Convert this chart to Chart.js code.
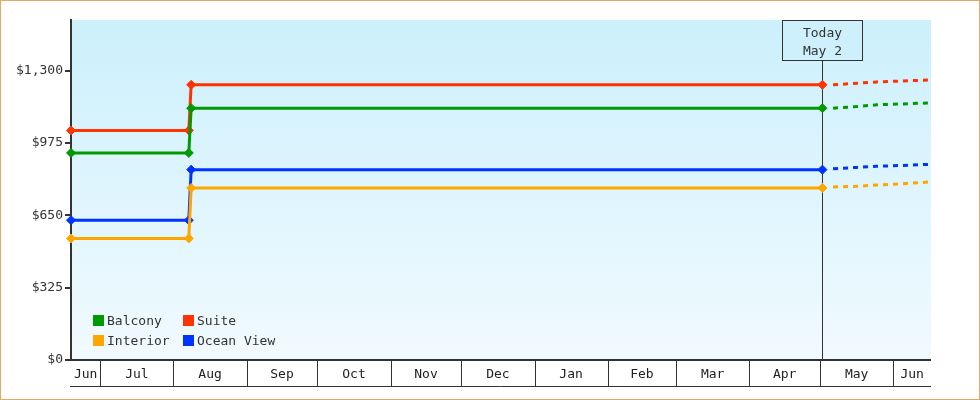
<!DOCTYPE html>
<html>
<head>
<meta charset="utf-8">
<script src="https://cdn.jsdelivr.net/npm/chart.js@4.4.1/dist/chart.umd.min.js"></script>
<style>
  html, body { margin: 0; padding: 0; background: #fff; }
  #wrap { width: 980px; height: 400px; }
</style>
</head>
<body>
<div id="wrap"><canvas id="fares" width="980" height="400"></canvas></div>
<script>
// Cabin price history (solid) and projection (dashed)
const seriesNames = ['Balcony', 'Suite', 'Interior', 'Ocean View'];
const seriesColors = ['#009900', '#ff3300', '#ffa500', '#0033ff'];

const historyDates = ['2023-06-18T14:00Z', '2023-08-07T12:00Z', '2023-08-08T12:00Z', '2024-05-02T00:00Z'];
const balconyHistory = [930, 930, 1131, 1131];
const suiteHistory = [1031, 1031, 1236, 1236];
const interiorHistory = [546, 546, 773, 773];
const oceanHistory = [628, 628, 855, 855];

const projectionDates = ['2024-05-06T12:00Z', '2024-05-16T12:00Z', '2024-05-25T00:00Z', '2024-06-05T00:00Z', '2024-06-17T00:00Z'];
const balconyProjection = [1131, 1138, 1146, 1150, 1155];
const suiteProjection = [1236, 1243, 1249, 1253, 1258];
const interiorProjection = [777, 780, 786, 792, 800];
const oceanProjection = [859, 865, 870, 874, 879];

const yTicks = [0, 325, 650, 975, 1300];
const yMax = 1527;

const axisStart = '2023-06-18T14:00Z';
const axisEnd = '2024-06-17T00:00Z';
const monthLabels = ['Jun', 'Jul', 'Aug', 'Sep', 'Oct', 'Nov', 'Dec', 'Jan', 'Feb', 'Mar', 'Apr', 'May', 'Jun'];
const monthStarts = ['2023-06-01', '2023-07-01', '2023-08-01', '2023-09-01', '2023-10-01', '2023-11-01', '2023-12-01',
                     '2024-01-01', '2024-02-01', '2024-03-01', '2024-04-01', '2024-05-01', '2024-06-01', '2024-07-01'];

const todayDate = '2024-05-02T00:00Z';
const todayLines = ['Today', 'May 2'];

const FONT = '13px "DejaVu Sans Mono", "Liberation Mono", monospace';
const INK = '#333333';

// dates -> day numbers for the linear x scale
function day(s) {
    if (s.length === 10) s += 'T00:00Z';
    return Date.parse(s) / 86400000;
}

function pts(dates, values) {
    return dates.map((d, i) => ({ x: day(d), y: values[i] }));
}

const histories = [balconyHistory, suiteHistory, interiorHistory, oceanHistory];
const projections = [balconyProjection, suiteProjection, interiorProjection, oceanProjection];

const datasets = [];
seriesNames.forEach((name, i) => {
    datasets.push({
        label: name,
        data: pts(historyDates, histories[i]),
        borderColor: seriesColors[i],
        backgroundColor: seriesColors[i],
        borderWidth: 3,
        pointStyle: 'rectRot',
        pointRadius: 4.5,
        pointBorderWidth: 1,
        pointBorderColor: seriesColors[i],
        pointBackgroundColor: seriesColors[i],
        tension: 0,
        clip: false
    });
    datasets.push({
        label: name + ' projection',
        data: pts(projectionDates, projections[i]),
        borderColor: seriesColors[i],
        borderWidth: 3,
        borderDash: [5, 5],
        pointRadius: 0,
        tension: 0,
        clip: false
    });
});

// light blue gradient behind the plot
const backdrop = {
    id: 'backdrop',
    beforeDraw(chart) {
        const { ctx, chartArea: a } = chart;
        ctx.save();
        ctx.fillStyle = '#fff';
        ctx.fillRect(0, 0, chart.width, chart.height);
        const g = ctx.createLinearGradient(0, a.top, 0, a.bottom);
        g.addColorStop(0, '#ccf0fc');
        g.addColorStop(1, '#f1faff');
        ctx.fillStyle = g;
        ctx.fillRect(a.left, a.top, a.right - a.left, a.bottom - a.top);
        ctx.restore();
    }
};

// "Today" marker line with its label box
const todayMarker = {
    id: 'todayMarker',
    beforeDatasetsDraw(chart) {
        const { ctx, chartArea: a } = chart;
        const x = Math.round(chart.scales.x.getPixelForValue(day(todayDate))) + 0.5;
        const boxW = 80, boxH = 40;
        ctx.save();
        ctx.strokeStyle = INK;
        ctx.lineWidth = 1;
        ctx.beginPath();
        ctx.moveTo(x, a.top + boxH);
        ctx.lineTo(x, a.bottom);
        ctx.stroke();
        ctx.fillStyle = '#cdf0fc';
        ctx.fillRect(x - boxW / 2, a.top, boxW, boxH);
        ctx.strokeRect(x - boxW / 2, a.top + 0.5, boxW, boxH);
        ctx.fillStyle = INK;
        ctx.font = FONT;
        ctx.textAlign = 'center';
        ctx.textBaseline = 'middle';
        ctx.fillText(todayLines[0], x, a.top + 13.5);
        ctx.fillText(todayLines[1], x, a.top + 31.5);
        ctx.restore();
    }
};

// month boxes under the plot, legend, outer frame
const extras = {
    id: 'extras',
    afterDraw(chart) {
        const { ctx, chartArea: a } = chart;
        const xs = chart.scales.x;
        const lo = day(axisStart), hi = day(axisEnd);
        const boxBottom = a.bottom + 26;
        ctx.save();
        ctx.strokeStyle = INK;
        ctx.fillStyle = '#222';
        ctx.font = FONT;
        ctx.textAlign = 'center';
        ctx.textBaseline = 'middle';

        ctx.lineWidth = 2;
        ctx.beginPath();
        ctx.moveTo(a.left - 1, a.bottom);
        ctx.lineTo(a.right, a.bottom);
        ctx.stroke();

        ctx.lineWidth = 1;
        ctx.beginPath();
        ctx.moveTo(a.left - 1, boxBottom + 0.5);
        ctx.lineTo(a.right, boxBottom + 0.5);
        for (let i = 0; i < monthLabels.length; i++) {
            const s = day(monthStarts[i]);
            const e = day(monthStarts[i + 1]);
            if (s > lo && s < hi) {
                const px = Math.round(xs.getPixelForValue(s)) + 0.5;
                ctx.moveTo(px, a.bottom);
                ctx.lineTo(px, boxBottom);
            }
            const p0 = xs.getPixelForValue(Math.max(s, lo));
            const p1 = xs.getPixelForValue(Math.min(e, hi));
            ctx.fillText(monthLabels[i], (p0 + p1) / 2, a.bottom + 14.5);
        }
        ctx.stroke();

        // legend, two columns inside the plot
        ctx.textAlign = 'left';
        seriesNames.forEach((name, n) => {
            const bx = a.left + 22 + (n % 2) * 90;
            const by = 315 + Math.floor(n / 2) * 20;
            ctx.fillStyle = seriesColors[n];
            ctx.fillRect(bx, by, 11, 11);
            ctx.fillStyle = INK;
            ctx.fillText(name, bx + 14, by + 6.5);
        });

        // outer frame
        ctx.strokeStyle = '#e8a965';
        ctx.lineWidth = 1;
        ctx.strokeRect(0.5, 0.5, chart.width - 1, chart.height - 1);
        ctx.restore();
    }
};

Chart.defaults.font.family = '"DejaVu Sans Mono", "Liberation Mono", monospace';
Chart.defaults.font.size = 13;
Chart.defaults.color = INK;

new Chart(document.getElementById('fares').getContext('2d'), {
    type: 'line',
    data: { datasets: datasets },
    options: {
        responsive: false,
        animation: false,
        layout: { padding: { left: 0, top: 20, right: 49, bottom: 14 } },
        plugins: {
            legend: { display: false },
            tooltip: { enabled: false }
        },
        scales: {
            x: {
                type: 'linear',
                min: day(axisStart),
                max: day(axisEnd),
                grid: { display: false },
                border: { display: false },
                ticks: { display: false },
                afterFit(s) { s.height = 26; }
            },
            y: {
                min: 0,
                max: yMax,
                afterBuildTicks(s) { s.ticks = yTicks.map(v => ({ value: v })); },
                ticks: {
                    color: INK,
                    padding: 2,
                    callback: v => '$' + v.toLocaleString('en-US')
                },
                grid: {
                    drawOnChartArea: false,
                    tickLength: 6,
                    lineWidth: 2,
                    color: INK
                },
                border: { color: INK, width: 2 },
                afterFit(s) { s.width = 71; }
            }
        }
    },
    plugins: [backdrop, todayMarker, extras]
});
</script>
</body>
</html>
